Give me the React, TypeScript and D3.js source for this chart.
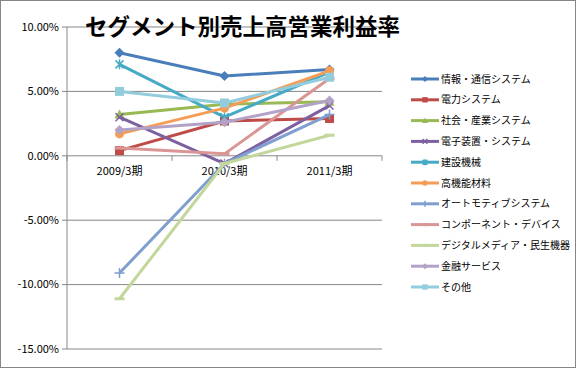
import * as d3 from "d3";

const W = 577;
const H = 369;
const MARGIN = { top: 27, right: 195, bottom: 20, left: 67 };

const periods = ["2009/3期", "2010/3期", "2011/3期"];
const yTicks = [10, 5, 0, -5, -10, -15];

const segments = [
  "情報・通信システム",
  "電力システム",
  "社会・産業システム",
  "電子装置・システム",
  "建設機械",
  "高機能材料",
  "オートモティブシステム",
  "コンポーネント・デバイス",
  "デジタルメディア・民生機器",
  "金融サービス",
  "その他",
];

const joho = [8.0, 6.2, 6.7];
const denryoku = [0.4, 2.7, 2.9];
const shakai = [3.2, 4.0, 4.2];
const denshi = [3.0, -0.6, 3.9];
const kensetsu = [7.1, 3.0, 6.5];
const kokino = [1.7, 3.7, 6.6];
const auto = [-9.1, -0.6, 3.2];
const component = [0.6, 0.15, 6.0];
const digital = [-11.1, -0.6, 1.6];
const kinyu = [2.0, 2.6, 4.3];
const sonota = [5.0, 4.1, 6.1];

const values = [joho, denryoku, shakai, denshi, kensetsu, kokino, auto, component, digital, kinyu, sonota];
const colors = [
  "#4A7EBB", "#BE4B48", "#98B954", "#7D60A0", "#46AAC5", "#F59D56",
  "#7F9FCF", "#D99694", "#C3D69B", "#B3A2C7", "#93CDDD",
];
const markers = ["diamond", "square", "triangle", "x", "star", "circle", "plus", "dash", "dash", "diamond", "square"];

const FONT = "'MS PGothic','Noto Sans CJK JP',sans-serif";

function Marker({ type, x, y, color, k = 1 }: { type: string; x: number; y: number; color: string; k?: number }) {
  const s = 5 * k;
  const sw = 1.5;
  if (type === "diamond") return <path d={`M${x},${y - s}L${x + s},${y}L${x},${y + s}L${x - s},${y}Z`} fill={color} />;
  if (type === "square") return <rect x={x - 0.9 * s} y={y - 0.9 * s} width={1.8 * s} height={1.8 * s} fill={color} />;
  if (type === "triangle") return <path d={`M${x},${y - s}L${x + s},${y + 0.8 * s}L${x - s},${y + 0.8 * s}Z`} fill={color} />;
  if (type === "circle") return <circle cx={x} cy={y} r={0.9 * s} fill={color} />;
  const a = 0.8 * s;
  if (type === "x")
    return <path d={`M${x - a},${y - a}L${x + a},${y + a}M${x - a},${y + a}L${x + a},${y - a}`} stroke={color} strokeWidth={sw} />;
  if (type === "star")
    return (
      <path
        d={`M${x - a},${y - a}L${x + a},${y + a}M${x - a},${y + a}L${x + a},${y - a}M${x},${y - s}L${x},${y + s}`}
        stroke={color}
        strokeWidth={sw}
      />
    );
  if (type === "plus")
    return <path d={`M${x - s},${y}L${x + s},${y}M${x},${y - s}L${x},${y + s}`} stroke={color} strokeWidth={sw} />;
  if (type === "dash") return <rect x={x - s} y={y - 1.5} width={2 * s} height={3} fill={color} />;
  return null;
}

export default function App() {
  const innerW = W - MARGIN.left - MARGIN.right;
  const x = d3.scaleBand().domain(periods).range([MARGIN.left, MARGIN.left + innerW]);
  const y = d3.scaleLinear().domain([-15, 10]).range([349, 27]);
  const cx = (i: number) => (x(periods[i]) ?? 0) + x.bandwidth() / 2;
  const line = d3
    .line<number>()
    .x((_, i) => cx(i))
    .y((d) => y(d));

  return (
    <div>
      <style>{"body{margin:0}"}</style>
      <svg width={W} height={H} style={{ display: "block", fontFamily: FONT }}>
        <rect x={0.5} y={0.5} width={W - 2} height={H - 2} fill="#fff" stroke="#868686" />

        {/* grid + y labels */}
        {yTicks.map((t) => (
          <g key={t}>
            <line x1={MARGIN.left - 5} x2={x.range()[1]} y1={y(t)} y2={y(t)} stroke="#868686" strokeWidth={1} />
            <text x={59} y={y(t)} dy="0.35em" textAnchor="end" fontSize={11}>
              {t.toFixed(2) + "%"}
            </text>
          </g>
        ))}
        <line x1={MARGIN.left} x2={MARGIN.left} y1={y(10)} y2={y(-15)} stroke="#868686" />

        {/* x ticks at zero line */}
        {[...periods.map((p) => x(p) ?? 0), x.range()[1]].map((v, i) => (
          <line key={i} x1={v} x2={v} y1={y(0)} y2={y(0) + 5} stroke="#868686" />
        ))}
        {periods.map((p, i) => (
          <text key={p} x={cx(i)} y={y(0) + 19} textAnchor="middle" fontSize={11}>
            {p}
          </text>
        ))}

        {/* series */}
        {values.map((vals, si) => (
          <g key={segments[si]}>
            <path d={line(vals) ?? ""} fill="none" stroke={colors[si]} strokeWidth={3} strokeLinejoin="round" />
            {vals.map((v, i) => (
              <Marker key={i} type={markers[si]} x={cx(i)} y={y(v)} color={colors[si]} />
            ))}
          </g>
        ))}

        {/* title */}
        <text x={85} y={35} fontSize={22.5} fontWeight="bold" fill="#000">
          セグメント別売上高営業利益率
        </text>

        {/* legend */}
        {segments.map((s, i) => {
          const ly = 79 + i * 20.8;
          return (
            <g key={s}>
              <line x1={411} x2={439} y1={ly} y2={ly} stroke={colors[i]} strokeWidth={3} />
              <Marker type={markers[i]} x={425} y={ly} color={colors[i]} k={0.6} />
              <text x={441} y={ly} dy="0.35em" fontSize={10}>
                {s}
              </text>
            </g>
          );
        })}
      </svg>
    </div>
  );
}
